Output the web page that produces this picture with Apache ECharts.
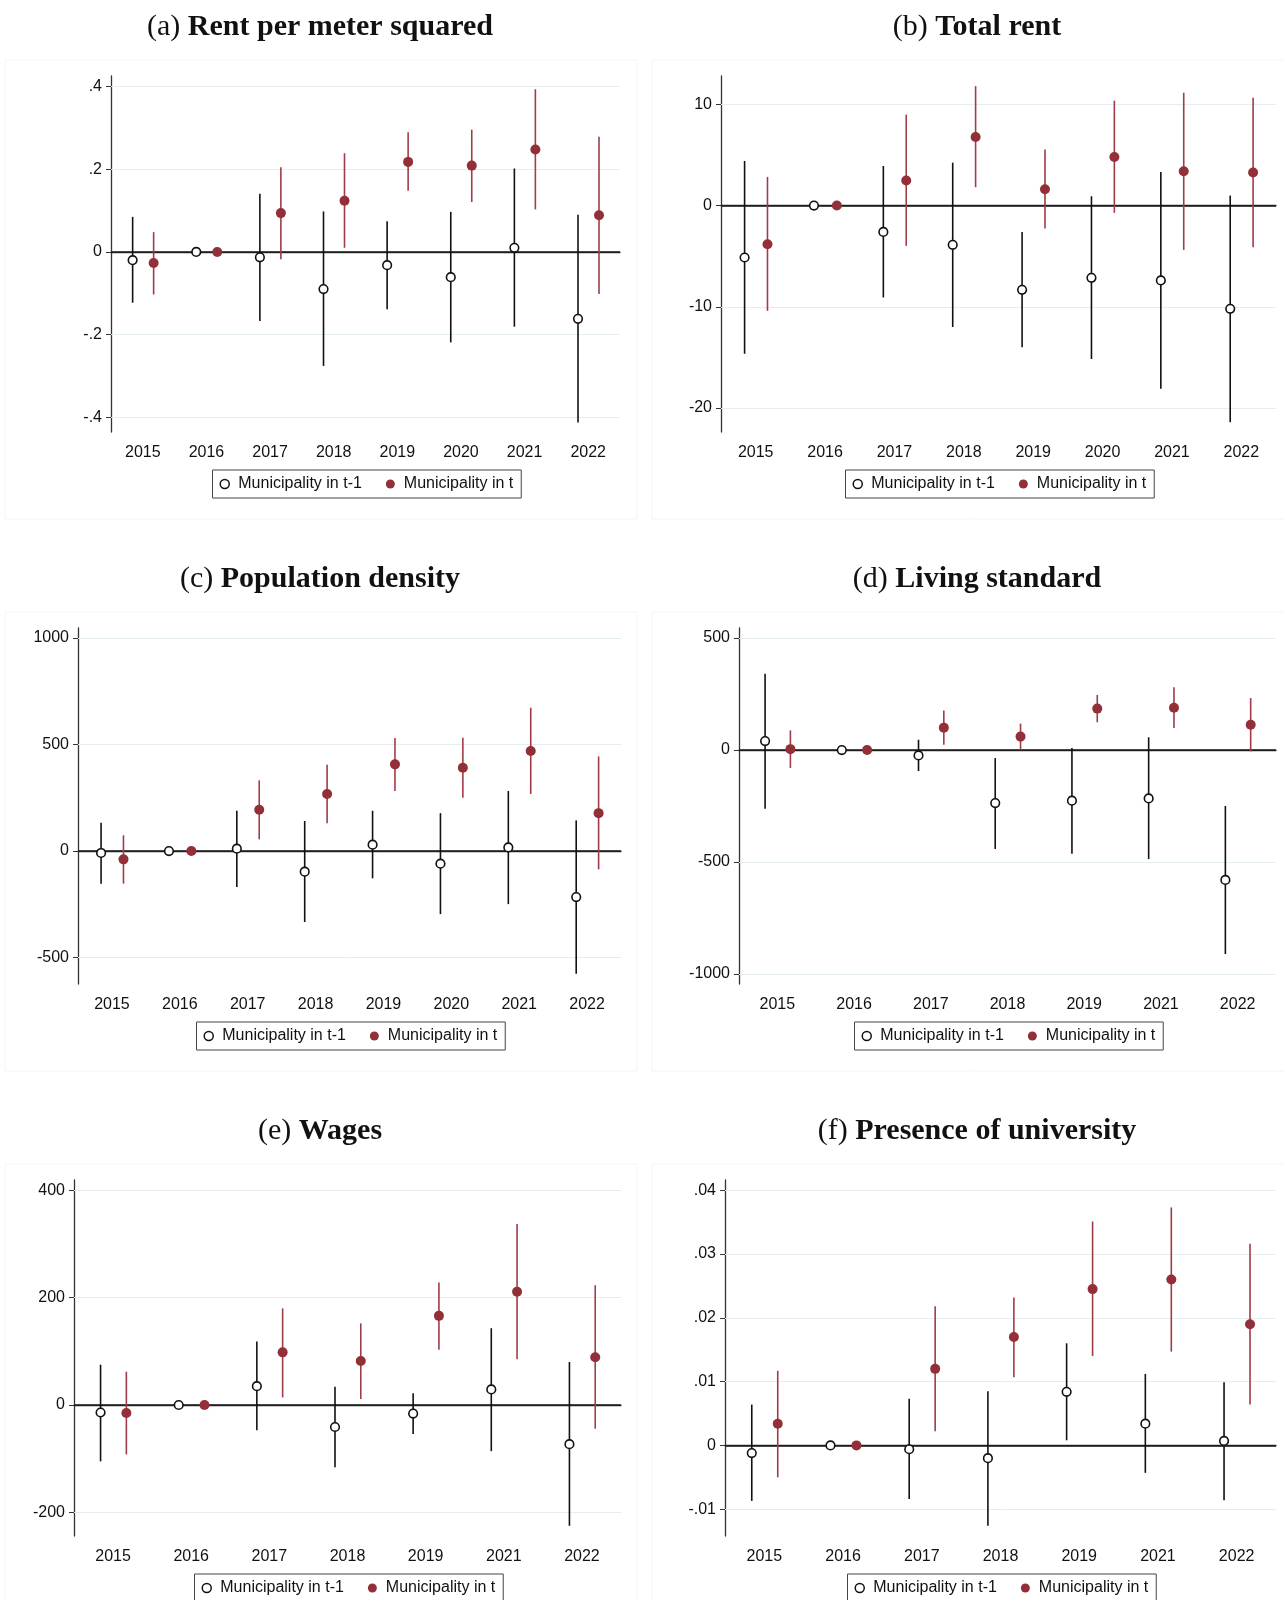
<!DOCTYPE html>
<html style="height: 100%">
<head>
    <meta charset="utf-8">
    <title>Event study panels</title>
</head>
<body style="height: 100%; margin: 0; background: #fff">
    <div id="container" style="width: 1284px; height: 1600px"></div>
    <script src="https://cdn.jsdelivr.net/npm/echarts@6.0.0/dist/echarts.min.js"></script>
    <script type="text/javascript">
        // years on the x axis
        var years8 = ['2015', '2016', '2017', '2018', '2019', '2020', '2021', '2022'];
        var years7 = ['2015', '2016', '2017', '2018', '2019', '2021', '2022'];

        // [estimate, lower, upper] ; "Prev" = Municipality in t-1, "Cur" = Municipality in t
        var rentSqmPrev = [[-0.020, -0.123, 0.085], [0, 0, 0], [-0.013, -0.167, 0.141], [-0.090, -0.276, 0.098],
            [-0.032, -0.139, 0.074], [-0.061, -0.219, 0.097], [0.010, -0.181, 0.202], [-0.162, -0.413, 0.090]];
        var rentSqmCur = [[-0.027, -0.103, 0.048], [0, 0, 0], [0.094, -0.018, 0.205], [0.124, 0.010, 0.239],
            [0.218, 0.148, 0.290], [0.209, 0.121, 0.296], [0.248, 0.103, 0.394], [0.089, -0.102, 0.279]];

        var totalRentPrev = [[-5.13, -14.64, 4.41], [0, 0, 0], [-2.60, -9.08, 3.91], [-3.88, -12.0, 4.24],
            [-8.32, -14.0, -2.60], [-7.14, -15.16, 0.92], [-7.40, -18.1, 3.32], [-10.2, -21.4, 0.99]];
        var totalRentCur = [[-3.82, -10.4, 2.83], [0, 0, 0], [2.47, -3.98, 8.98], [6.78, 1.81, 11.8],
            [1.61, -2.27, 5.53], [4.80, -0.72, 10.36], [3.39, -4.38, 11.15], [3.26, -4.11, 10.66]];

        var popDensPrev = [[-9, -153, 133], [0, 0, 0], [11, -169, 189], [-97, -333, 141],
            [30, -128, 189], [-59, -296, 178], [17, -249, 282], [-216, -576, 144]];
        var popDensCur = [[-39, -153, 74], [0, 0, 0], [194, 55, 332], [268, 130, 405],
            [407, 282, 531], [391, 250, 532], [470, 268, 673], [178, -86, 444]];

        var livingPrev = [[40, -262, 341], [0, 0, 0], [-24, -94, 46], [-237, -442, -36],
            [-226, -463, 9], [-216, -487, 57], [-580, -911, -250]];
        var livingCur = [[4, -80, 88], [0, 0, 0], [100, 24, 176], [60, 0, 118],
            [185, 124, 246], [189, 98, 280], [113, -6, 232]];

        var wagesPrev = [[-14, -105, 75], [0, 0, 0], [35, -47, 118], [-41, -116, 34],
            [-16, -54, 22], [29, -86, 143], [-73, -225, 80]];
        var wagesCur = [[-15, -92, 62], [0, 0, 0], [98, 14, 180], [82, 11, 152],
            [166, 103, 228], [211, 85, 337], [89, -44, 223]];

        var univPrev = [[-0.0012, -0.0087, 0.0064], [0, 0, 0], [-0.0006, -0.0084, 0.0073], [-0.0020, -0.0126, 0.0085],
            [0.0084, 0.0008, 0.0160], [0.0034, -0.0043, 0.0112], [0.0007, -0.0086, 0.0099]];
        var univCur = [[0.0034, -0.0050, 0.0117], [0, 0, 0], [0.0120, 0.0022, 0.0218], [0.0170, 0.0107, 0.0232],
            [0.0245, 0.0140, 0.0351], [0.0260, 0.0147, 0.0373], [0.0190, 0.0064, 0.0316]];

        // y tick labels
        var ticksA = [-0.4, -0.2, 0, 0.2, 0.4];
        var ticksB = [-20, -10, 0, 10];
        var ticksC = [-500, 0, 500, 1000];
        var ticksD = [-1000, -500, 0, 500];
        var ticksE = [-200, 0, 200, 400];
        var ticksF = [-0.01, 0, 0.01, 0.02, 0.03, 0.04];

        var NAME_PREV = 'Municipality in t-1';
        var NAME_CUR = 'Municipality in t';
        var RED = '#922f38';
        var SANS = 'Liberation Sans, Arial, sans-serif';

        var panels = [
            { letter: '(a) ', title: 'Rent per meter squared', years: years8, prev: rentSqmPrev, cur: rentSqmCur, ticks: ticksA,
              min: -0.436, max: 0.426, left: 111, width: 509, top: 76, titleX: 320 },
            { letter: '(b) ', title: 'Total rent', years: years8, prev: totalRentPrev, cur: totalRentCur, ticks: ticksB,
              min: -22.37, max: 12.8, left: 721, width: 555, top: 76, titleX: 977 },
            { letter: '(c) ', title: 'Population density', years: years8, prev: popDensPrev, cur: popDensCur, ticks: ticksC,
              min: -624, max: 1047, left: 78, width: 543, top: 628, titleX: 320 },
            { letter: '(d) ', title: 'Living standard', years: years7, prev: livingPrev, cur: livingCur, ticks: ticksD,
              min: -1045, max: 545, left: 739, width: 537, top: 628, titleX: 977 },
            { letter: '(e) ', title: 'Wages', years: years7, prev: wagesPrev, cur: wagesCur, ticks: ticksE,
              min: -244, max: 419, left: 74, width: 547, top: 1180, titleX: 320 },
            { letter: '(f) ', title: 'Presence of university', years: years7, prev: univPrev, cur: univCur, ticks: ticksF,
              min: -0.0142, max: 0.0416, left: 725, width: 551, top: 1180, titleX: 977 }
        ];
        var PLOT_H = 356;

        function stataLabel(v) {
            return String(v).replace(/^(-?)0\./, '$1.');
        }

        function pointRenderer(offset, hollow) {
            return function (params, api) {
                var idx = api.value(0);
                var c = api.coord([idx, api.value(1)]);
                var lo = api.coord([idx, api.value(2)]);
                var hi = api.coord([idx, api.value(3)]);
                var x = c[0] + api.size([1, 0])[0] * offset;
                var kids = [];
                if (api.value(2) !== api.value(3)) {
                    kids.push({
                        type: 'line',
                        shape: { x1: x, y1: lo[1], x2: x, y2: hi[1] },
                        style: { stroke: hollow ? '#111' : '#a03c45', lineWidth: 1.6 }
                    });
                }
                kids.push({
                    type: 'circle',
                    shape: { cx: x, cy: c[1], r: hollow ? 4.3 : 5 },
                    style: hollow ? { fill: '#fff', stroke: '#111', lineWidth: 1.6 } : { fill: RED }
                });
                return { type: 'group', children: kids };
            };
        }

        function toData(arr) {
            return arr.map(function (d, i) { return [i, d[0], d[1], d[2]]; });
        }

        var option = {
            animation: false,
            backgroundColor: '#fff',
            title: [], grid: [], xAxis: [], yAxis: [], legend: [], series: [], graphic: []
        };

        panels.forEach(function (p, k) {
            var rowTop = p.top - 16;
            var isLeft = p.titleX < 640;
            option.graphic.push({
                type: 'rect', silent: true, z: -10,
                shape: { x: isLeft ? 5 : 652, y: rowTop, width: isLeft ? 632 : 640, height: 459 },
                style: { fill: 'none', stroke: '#f5f5f5', lineWidth: 1 }
            });
            option.title.push({
                text: '{n|' + p.letter + '}{b|' + p.title + '}',
                left: p.titleX, top: p.top - 64, textAlign: 'center', padding: 0,
                textStyle: {
                    fontWeight: 'normal',
                    rich: {
                        n: { fontFamily: 'Liberation Serif, serif', fontSize: 30, fontWeight: 'normal', color: '#111' },
                        b: { fontFamily: 'Liberation Serif, serif', fontSize: 30, fontWeight: 'bold', color: '#111' }
                    }
                }
            });
            option.grid.push({ left: p.left, top: p.top, width: p.width, height: PLOT_H, containLabel: false });
            option.xAxis.push({
                type: 'category', gridIndex: k, data: p.years, boundaryGap: true,
                axisLine: { lineStyle: { color: '#333', width: 1.3 } },
                axisTick: { alignWithLabel: true, length: 5, lineStyle: { color: '#333' } },
                axisLabel: { color: '#111', fontFamily: SANS, fontSize: 16, margin: 13 },
                splitLine: { show: false }
            });
            option.yAxis.push({
                type: 'value', gridIndex: k, min: p.min, max: p.max,
                axisLine: { show: true, lineStyle: { color: '#333', width: 1.3 } },
                axisTick: { show: true, length: 5, customValues: p.ticks, lineStyle: { color: '#333' } },
                axisLabel: { color: '#111', fontFamily: SANS, fontSize: 16, margin: 9,
                    customValues: p.ticks, formatter: stataLabel },
                splitLine: { show: false }
            });
            var gridLines = p.ticks.filter(function (v) { return v !== 0; }).map(function (v) {
                return { yAxis: v, lineStyle: { color: '#e4edef', width: 1, type: 'solid' } };
            });
            gridLines.push({ yAxis: 0, lineStyle: { color: '#1a1a1a', width: 1.6, type: 'solid' } });
            option.series.push({
                name: NAME_PREV, type: 'custom', xAxisIndex: k, yAxisIndex: k, z: 3,
                renderItem: pointRenderer(-0.16, true),
                encode: { x: 0, y: 1 },
                data: toData(p.prev),
                markLine: {
                    silent: true, z: 1, symbol: ['none', 'none'], label: { show: false },
                    emphasis: { disabled: true }, animation: false,
                    data: gridLines
                }
            });
            option.series.push({
                name: NAME_CUR, type: 'custom', xAxisIndex: k, yAxisIndex: k, z: 3,
                renderItem: pointRenderer(0.17, false),
                encode: { x: 0, y: 1 },
                data: toData(p.cur)
            });
            var centre = p.left + p.width / 2;
            option.legend.push({
                left: centre - 153, top: p.top + 394,
                orient: 'horizontal',
                borderColor: '#444', borderWidth: 1, padding: [6, 8, 6, 7],
                itemGap: 24, itemWidth: 9, itemHeight: 9,
                selectedMode: false,
                textStyle: { fontFamily: SANS, fontSize: 16, color: '#111', padding: [0, 0, 0, 4] },
                data: [
                    { name: NAME_PREV, icon: 'circle', itemStyle: { color: '#fff', borderColor: '#111', borderWidth: 1.5 } },
                    { name: NAME_CUR, icon: 'circle', itemStyle: { color: RED, borderWidth: 0 } }
                ]
            });
        });

        var dom = document.getElementById('container');
        var myChart = echarts.init(dom, null, { renderer: 'canvas' });
        myChart.setOption(option);
    </script>
</body>
</html>
